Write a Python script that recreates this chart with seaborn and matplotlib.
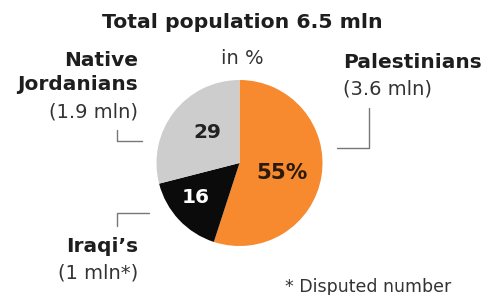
import matplotlib
matplotlib.use("Agg")
import matplotlib.pyplot as plt
import seaborn as sns
from matplotlib.lines import Line2D

# data
groups = ["Palestinians", "Iraqi\u2019s", "Native Jordanians"]
shares = [55, 16, 29]
share_labels = ["55%", "16", "29"]
sub_labels = ["(3.6 mln)", "(1 mln*)", "(1.9 mln)"]
colors = ["#F7892F", "#0B0B0B", "#CDCDCD"]
label_colors = ["#2a1a0a", "white", "#222222"]

sns.set_theme(style="white")
plt.rcParams["font.family"] = ["DejaVu Sans"]

W, H = 487, 295
fig = plt.figure(figsize=(W / 100, H / 100), dpi=100)
fig.patch.set_facecolor("white")

# pie centre and radius in pixels
cx, cy, r = 239.5, 163, 83
ax = fig.add_axes([(cx - r) / W, (H - cy - r) / H, 2 * r / W, 2 * r / H])
wedges, texts = ax.pie(shares, colors=colors, startangle=90, counterclock=False,
                       radius=1, wedgeprops=dict(linewidth=0))
ax.set_xlim(-1, 1)
ax.set_ylim(-1, 1)
ax.set_aspect("equal")
ax.axis("off")

# value labels inside slices
pos = [(0.51, -0.12), (-0.53, -0.41), (-0.39, 0.37)]
sizes = [15.5, 14.5, 14.5]
for (x, y), t, c, s in zip(pos, share_labels, label_colors, sizes):
    ax.text(x, y, t, ha="center", va="center", fontsize=s, fontweight="bold", color=c)


def px(x, y):
    return x / W, 1 - y / H


def ftext(x, y, s, **kw):
    fig.text(*px(x, y), s, **kw)


BOLD = dict(fontsize=14.5, fontweight="bold", color="#1e1e1e", va="center")
REG = dict(fontsize=14, color="#333333", va="center")

ftext(242, 22, "Total population 6.5 mln", ha="center", va="center",
      fontsize=14.7, fontweight="bold", color="#1e1e1e")
ftext(242, 59, "in %", ha="center", **REG)

# Palestinians
ftext(343, 62, groups[0], ha="left", **BOLD)
ftext(343, 89, sub_labels[0], ha="left", **REG)
# Native Jordanians
ftext(138, 61, "Native", ha="right", **BOLD)
ftext(138, 85, "Jordanians", ha="right", **BOLD)
ftext(138, 112, sub_labels[2], ha="right", **REG)
# Iraqi's
ftext(138, 247, groups[1], ha="right", **BOLD)
ftext(138, 273, sub_labels[1], ha="right", **REG)

ftext(451, 287, "* Disputed number", ha="right", va="center", fontsize=12.5, color="#333333")

# leader lines
lines = [
    [(117, 130), (117, 141), (142, 141)],
    [(369, 108), (369, 148), (337, 148)],
    [(149, 213), (117, 213), (117, 226)],
]
for pts in lines:
    xs = [px(*p)[0] for p in pts]
    ys = [px(*p)[1] for p in pts]
    fig.add_artist(Line2D(xs, ys, color="#777777", linewidth=1.0))

fig.savefig("out.png", dpi=100)
